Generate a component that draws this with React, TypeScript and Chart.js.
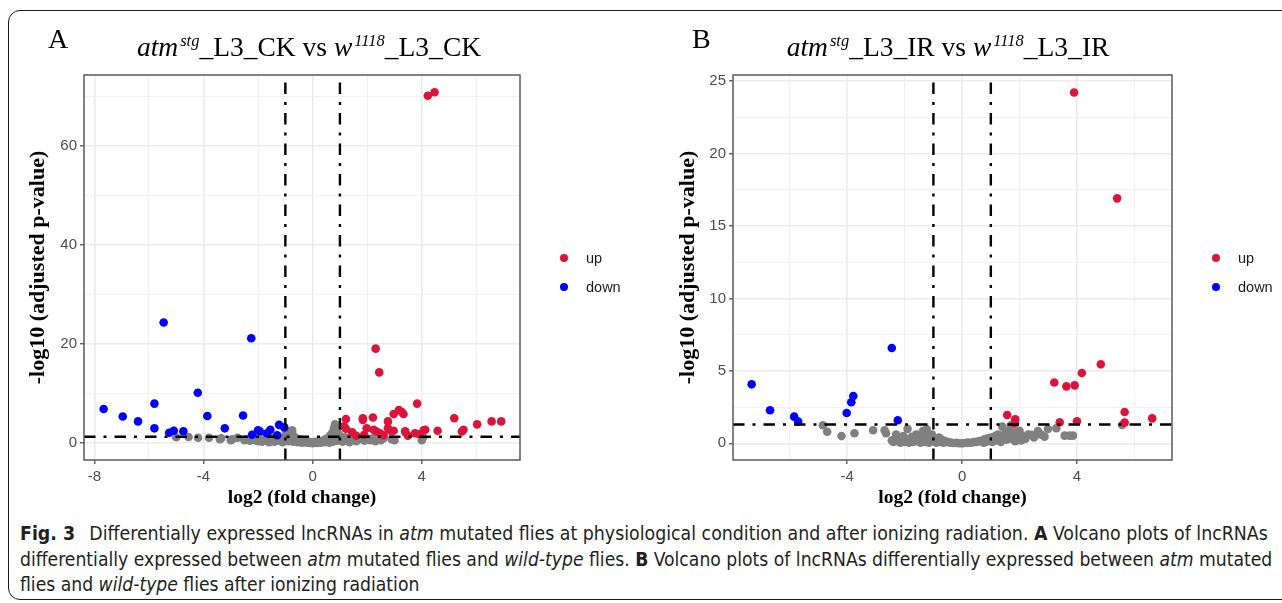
import React, { useEffect, useLayoutEffect, useRef } from 'react';
import { Chart, registerables } from 'chart.js';

Chart.register(...registerables);

// ---------- DATA ----------
// Panel A: atm^stg_L3_CK vs w^1118_L3_CK  (x = log2 fold change, y = -log10 adjusted p)
const upA: number[][] = [
  [4.22, 70.2], [4.47, 70.9], [2.31, 19.1], [2.44, 14.3], [3.83, 8.0], [3.16, 6.7], [2.97, 5.9],
  [3.33, 5.9], [1.22, 4.9], [1.84, 5.05], [1.84, 4.7], [2.21, 5.2], [2.76, 4.4], [5.19, 5.05],
  [6.03, 3.8], [6.56, 4.4], [6.91, 4.4], [1.15, 3.4], [1.22, 2.9], [1.45, 2.2], [1.98, 3.0],
  [2.23, 2.7], [2.33, 2.4], [2.47, 2.0], [2.76, 3.0], [2.85, 2.5], [2.97, 2.5], [3.39, 2.4],
  [3.49, 1.5], [3.75, 2.0], [3.91, 1.8], [4.07, 2.6], [4.13, 2.7], [4.58, 2.5], [5.47, 2.35],
  [5.53, 2.7], [1.89, 1.7], [3.27, 6.3], [3.40, 2.2], [2.6, 1.6], [1.6, 1.5],
];
const downA: number[][] = [
  [-5.46, 24.4], [-2.25, 21.2], [-4.21, 10.2], [-5.80, 8.0], [-7.66, 6.9], [-6.96, 5.4],
  [-6.40, 4.4], [-3.86, 5.5], [-2.55, 5.6], [-5.80, 3.0], [-5.26, 2.1], [-5.09, 2.5],
  [-4.74, 2.4], [-3.22, 3.0], [-2.00, 2.6], [-1.94, 2.4], [-1.55, 2.7], [-1.23, 3.7],
  [-1.04, 3.2], [-2.22, 1.7], [-1.67, 2.0], [-1.3, 1.6],
];
const nsA: number[][] = [
  [-5.0, 1.2], [-4.55, 1.25], [-4.2, 1.1], [-3.8, 1.1], [-3.4, 0.8], [-3.35, 1.0], [-3.0, 0.6],
  [-2.95, 0.8], [-2.75, 1.1], [-2.5, 0.6], [-2.45, 0.8], [-2.3, 0.5], [-2.2, 0.9], [-2.1, 0.6],
  [-2.0, 0.4], [-1.95, 1.1], [-1.9, 0.7], [-1.85, 0.3], [-1.8, 1.2], [-1.7, 0.5], [-1.65, 0.9],
  [-1.6, 0.2], [-1.55, 1.2], [-1.5, 0.6], [-1.45, 1.0], [-1.4, 0.3], [-1.35, 0.8], [-1.3, 1.2],
  [-1.25, 0.5], [-1.2, 1.1], [-0.98, 1.8], [-1.1, 0.2], [-1.05, 0.7], [-1.0, 1.3], [-0.95, 2.3],
  [-0.9, 0.4], [-0.85, 1.7], [-0.8, 1.0], [-0.75, 2.6], [-0.72, 0.3], [-0.7, 1.5], [-0.65, 0.6],
  [-0.6, 1.0], [-0.55, 0.2], [-0.5, 0.5], [-0.45, 0.8], [-0.4, 0.1], [-0.35, 0.4], [-0.3, 0.2],
  [-0.25, 0.6], [-0.2, 0.1], [-0.15, 0.3], [-0.1, 0.05], [-0.05, 0.2], [0, 0], [0.05, 0.1],
  [0.1, 0.3], [0.15, 0.05], [0.2, 0.2], [0.25, 0.5], [0.3, 0.1], [0.35, 0.3], [0.4, 0.6],
  [0.45, 0.2], [0.5, 0.9], [0.55, 0.4], [0.6, 1.2], [0.62, 0.1], [0.65, 1.6], [0.7, 0.7],
  [0.72, 2.1], [0.75, 0.3], [0.78, 3.0], [0.8, 1.0], [0.82, 3.8], [0.85, 2.5], [0.88, 1.4],
  [0.9, 0.5], [0.92, 3.2], [0.95, 1.9], [1.0, 0.9], [1.05, 1.25], [1.1, 0.3], [1.15, 0.8],
  [1.2, 1.2], [1.25, 0.5], [1.3, 1.0], [1.35, 0.2], [1.45, 0.7], [1.5, 1.1], [1.6, 0.4],
  [1.7, 0.8], [1.8, 1.2], [1.9, 0.5], [2.0, 0.9], [2.1, 0.6], [2.2, 1.0], [2.3, 0.4],
  [2.4, 0.8], [2.5, 0.6], [2.6, 1.0], [2.9, 0.8], [3.0, 0.6], [4.0, 0.6], [4.05, 1.2],
];

// Panel B: atm^stg_L3_IR vs w^1118_L3_IR
const upB: number[][] = [
  [3.90, 24.2], [5.40, 16.9], [4.83, 5.45], [4.17, 4.85], [3.21, 4.2], [3.63, 3.93], [3.92, 4.0],
  [1.57, 1.95], [1.85, 1.65], [1.84, 1.38], [3.40, 1.45], [4.00, 1.52], [5.66, 2.16],
  [5.66, 1.43], [6.62, 1.72],
];
const downB: number[][] = [
  [-7.33, 4.07], [-6.69, 2.28], [-5.85, 1.84], [-5.71, 1.5], [-4.02, 2.09], [-3.86, 2.83],
  [-3.79, 3.27], [-2.45, 6.58], [-2.24, 1.59],
];
const nsB: number[][] = [
  [-4.85, 1.25], [-4.7, 0.8], [-4.2, 0.5], [-3.75, 0.7], [-3.1, 0.9], [-2.7, 0.9], [-2.65, 0.7],
  [-2.45, 0.2], [-2.4, 0.1], [-2.35, 0.3], [-2.3, 0.6], [-2.25, 0.15], [-2.2, 0.4], [-2.15, 0.05],
  [-2.1, 0.25], [-2.05, 0.5], [-2.0, 0.1], [-1.95, 0.3], [-1.9, 1.0], [-1.85, 0.05], [-1.8, 0.2],
  [-1.75, 0.45], [-1.7, 0.1], [-1.65, 0.3], [-1.6, 0.6], [-1.55, 0.15], [-1.5, 0.35],
  [-1.45, 0.05], [-1.4, 0.25], [-1.37, 0.85], [-1.3, 0.1], [-1.25, 0.45], [-1.23, 0.97],
  [-1.2, 0.2], [-1.15, 0.05], [-1.1, 0.3], [-1.05, 0.6], [-1.0, 0.15], [-0.95, 0.35],
  [-0.9, 0.05], [-0.85, 0.2], [-0.8, 0.4], [-0.75, 0.1], [-0.7, 0.25], [-0.65, 0.05],
  [-0.6, 0.15], [-0.5, 0.08], [-0.4, 0.05], [-0.3, 0.02], [-0.2, 0.03], [-0.1, 0.01], [0, 0],
  [0.1, 0.02], [0.2, 0.05], [0.3, 0.04], [0.4, 0.08], [0.5, 0.1], [0.6, 0.15], [0.7, 0.2],
  [0.75, 0.05], [0.8, 0.3], [0.85, 0.12], [0.9, 0.35], [0.95, 0.2], [1.0, 0.4], [1.05, 0.1],
  [1.1, 0.3], [1.15, 0.5], [1.2, 0.2], [1.25, 0.6], [1.3, 0.35], [1.35, 0.1], [1.4, 1.15],
  [1.42, 0.45], [1.5, 0.7], [1.55, 0.25], [1.6, 0.5], [1.65, 0.9], [1.7, 1.25], [1.75, 0.3],
  [1.8, 0.6], [1.85, 0.15], [1.9, 0.8], [1.95, 0.4], [2.0, 0.87], [2.05, 0.2], [2.1, 0.5],
  [2.2, 0.3], [2.3, 0.6], [2.41, 0.58], [2.5, 0.4], [2.64, 0.85], [2.75, 0.6], [2.87, 0.46],
  [2.99, 0.99], [3.28, 1.04], [3.57, 0.53], [3.74, 0.53], [3.86, 0.53], [5.57, 1.27],
];

// Axis ticks (all = grid lines incl. minor, labelled = major)
const xTicksA = [-8, -6, -4, -2, 0, 2, 4, 6];
const xLabelsA = [-8, -4, 0, 4];
const yTicksA = [0, 10, 20, 30, 40, 50, 60, 70];
const yLabelsA = [0, 20, 40, 60];
const xTicksB = [-6, -4, -2, 0, 2, 4, 6];
const xLabelsB = [-4, 0, 4];
const yTicksB = [0, 2.5, 5, 7.5, 10, 12.5, 15, 17.5, 20, 22.5, 25];
const yLabelsB = [0, 5, 10, 15, 20, 25];

// Thresholds
const fcCutoff = 1;
const padjLine = 1.301;

const legendItems = ['up', 'down'];

// ---------- STYLE ----------
const RED = '#DC143C';
const BLUE = '#0000FF';
const GREY = '#808080';
const DASH = [11.5, 8, 3, 8];
const SERIF = '"Liberation Serif", "Times New Roman", serif';
const SANS = '"Liberation Sans", Arial, Helvetica, sans-serif';

const borderPlugin = {
  id: 'panelBorder',
  afterDraw(chart: any) {
    const { ctx, chartArea: a } = chart;
    ctx.save();
    ctx.strokeStyle = '#5a5a5a';
    ctx.lineWidth = 1.5;
    ctx.strokeRect(a.left, a.top, a.right - a.left, a.bottom - a.top);
    ctx.restore();
  },
};

type PanelCfg = {
  up: number[][]; down: number[][]; ns: number[][];
  xMin: number; xMax: number; yMin: number; yMax: number;
  xTicks: number[]; xLabels: number[]; yTicks: number[]; yLabels: number[];
  yAxisWidth: number; padRight: number; yTitlePad: number;
};

function toPts(a: number[][]) {
  return a.map(([x, y]) => ({ x, y }));
}

function makeConfig(p: PanelCfg): any {
  const lineDs = (data: any[]) => ({
    data, showLine: true, borderColor: '#000', borderWidth: 2.4, borderDash: DASH,
    pointRadius: 0, fill: false, order: 0, clip: 0,
  });
  const ptDs = (data: number[][], color: string, order: number) => ({
    data: toPts(data), backgroundColor: color, borderWidth: 0, pointRadius: 4.3,
    pointHoverRadius: 4.3, order, clip: 0,
  });
  const isMaj = (arr: number[]) => (c: any) => arr.includes(c.tick?.value);
  const gridOpts = (labels: number[]) => ({
    color: (c: any) => (isMaj(labels)(c) ? '#ebebeb' : '#f1f1f1'),
    lineWidth: (c: any) => (isMaj(labels)(c) ? 1.6 : 1),
    tickColor: (c: any) => (isMaj(labels)(c) ? '#333333' : 'rgba(0,0,0,0)'),
    tickLength: 4, tickWidth: 1.1, drawTicks: true,
  });
  const tickFont = { family: SANS, size: 15 };
  return {
    type: 'scatter',
    data: {
      datasets: [
        lineDs([{ x: -fcCutoff, y: p.yMin }, { x: -fcCutoff, y: p.yMax }]),
        lineDs([{ x: fcCutoff, y: p.yMin }, { x: fcCutoff, y: p.yMax }]),
        lineDs([{ x: p.xMin, y: padjLine }, { x: p.xMax, y: padjLine }]),
        ptDs(p.up, RED, 1),
        ptDs(p.down, BLUE, 1),
        ptDs(p.ns, GREY, 2),
      ],
    },
    options: {
      responsive: false, animation: false, devicePixelRatio: 1, events: [],
      layout: { padding: { top: 75, right: p.padRight, bottom: 0, left: 0 } },
      plugins: { legend: { display: false }, tooltip: { enabled: false }, title: { display: false } },
      scales: {
        x: {
          type: 'linear', position: 'bottom', min: p.xMin, max: p.xMax,
          afterBuildTicks: (s: any) => { s.ticks = p.xTicks.map((v) => ({ value: v })); },
          afterFit: (s: any) => { s.height = 60; },
          ticks: {
            autoSkip: false, maxRotation: 0, padding: 4, color: '#4d4d4d', font: tickFont,
            callback: (v: any) => (p.xLabels.includes(v) ? String(v) : ''),
          },
          grid: gridOpts(p.xLabels),
          border: { display: false },
          title: {
            display: true, text: 'log2 (fold change)', color: '#000',
            font: { family: SERIF, size: 19.5, weight: 'bold' },
            padding: { top: 0, bottom: 10 },
          },
        },
        y: {
          type: 'linear', position: 'left', min: p.yMin, max: p.yMax,
          afterBuildTicks: (s: any) => { s.ticks = p.yTicks.map((v) => ({ value: v })); },
          afterFit: (s: any) => { s.width = p.yAxisWidth; },
          ticks: {
            autoSkip: false, padding: 3, color: '#4d4d4d', font: tickFont,
            callback: (v: any) => (p.yLabels.includes(v) ? String(v) : ''),
          },
          grid: gridOpts(p.yLabels),
          border: { display: false },
          title: {
            display: true, text: '-log10 (adjusted p-value)', color: '#000',
            font: { family: SERIF, size: 22, weight: 'bold' },
            padding: { top: p.yTitlePad, bottom: 0 },
          },
        },
      },
    },
    plugins: [borderPlugin],
  };
}

const panelA: PanelCfg = {
  up: upA, down: downA, ns: nsA, xMin: -8.38, xMax: 7.6, yMin: -3.4, yMax: 74.4,
  xTicks: xTicksA, xLabels: xLabelsA, yTicks: yTicksA, yLabels: yLabelsA,
  yAxisWidth: 84, padRight: 120, yTitlePad: 25,
};
const panelB: PanelCfg = {
  up: upB, down: downB, ns: nsB, xMin: -7.98, xMax: 7.31, yMin: -1.15, yMax: 25.41,
  xTicks: xTicksB, xLabels: xLabelsB, yTicks: yTicksB, yLabels: yLabelsB,
  yAxisWidth: 93, padRight: 110, yTitlePad: 35,
};

function Volcano({ cfg, left, width }: { cfg: PanelCfg; left: number; width: number }) {
  const ref = useRef<HTMLCanvasElement>(null);
  useEffect(() => {
    if (!ref.current) return;
    const chart = new Chart(ref.current, makeConfig(cfg));
    return () => chart.destroy();
  }, [cfg]);
  return (
    <canvas
      ref={ref}
      width={width}
      height={520}
      style={{ position: 'absolute', left, top: 0, width, height: 520 }}
    />
  );
}

function Title({ center, cond }: { center: number; cond: string }) {
  const sup: React.CSSProperties = { fontSize: '0.6em', position: 'relative', top: '-0.62em', marginLeft: 2 };
  return (
    <div
      style={{
        position: 'absolute', left: center - 300, width: 600, top: 32, textAlign: 'center',
        fontFamily: SERIF, fontSize: 27.5, lineHeight: '30px', color: '#000', whiteSpace: 'nowrap',
      }}
    >
      <i>atm</i><i style={sup}>stg</i>_L3_{cond} vs <i>w</i><i style={sup}>1118</i>_L3_{cond}
    </div>
  );
}

function Legend({ left }: { left: number }) {
  const colors = [RED, BLUE];
  return (
    <>
      {legendItems.map((t, i) => (
        <React.Fragment key={t}>
          <div
            style={{
              position: 'absolute', left: left - 4.3, top: 258 + i * 29 - 4.3, width: 8.6, height: 8.6,
              borderRadius: '50%', background: colors[i],
            }}
          />
          <div
            style={{
              position: 'absolute', left: left + 22, top: 258 + i * 29 - 10, height: 20, lineHeight: '20px',
              fontFamily: SANS, fontSize: 14.5, color: '#1a1a1a',
            }}
          >
            {t}
          </div>
        </React.Fragment>
      ))}
    </>
  );
}

export default function App() {
  const l1 = useRef<HTMLDivElement>(null);
  const l2 = useRef<HTMLDivElement>(null);
  const l3 = useRef<HTMLDivElement>(null);

  useLayoutEffect(() => {
    document.body.style.margin = '0';
    const targets = [1248, 1252, 0];
    let last = 1;
    [l1, l2, l3].forEach((r, i) => {
      const el = r.current;
      if (!el) return;
      el.style.transform = 'none';
      const w = el.scrollWidth;
      const s = targets[i] ? targets[i] / w : last;
      el.style.transform = `scaleX(${s})`;
      last = s;
    });
  }, []);

  const capLine: React.CSSProperties = {
    position: 'absolute', left: 20, whiteSpace: 'nowrap', display: 'inline-block',
    transformOrigin: 'left center', fontFamily: '"Liberation Sans Narrow", "DejaVu Sans Condensed", "Liberation Sans", sans-serif',
    fontSize: 19.5, lineHeight: '24px', height: 24, color: '#231f20',
  };

  return (
    <div style={{ position: 'fixed', left: 0, top: 0, width: 1282, height: 603, background: '#fff', overflow: 'hidden' }}>
      <div
        style={{
          position: 'absolute', left: 8, top: 10, width: 1320, height: 590, boxSizing: 'border-box',
          border: '1.4px solid #1a1a1a', borderRadius: 12,
        }}
      />
      <Volcano cfg={panelA} left={0} width={640} />
      <Volcano cfg={panelB} left={640} width={642} />
      <div style={{ position: 'absolute', left: 48, top: 22, fontFamily: SERIF, fontSize: 28, lineHeight: '34px' }}>A</div>
      <div style={{ position: 'absolute', left: 692, top: 22, fontFamily: SERIF, fontSize: 28, lineHeight: '34px' }}>B</div>
      <Title center={309} cond="CK" />
      <Title center={948} cond="IR" />
      <Legend left={564} />
      <Legend left={1216} />
      <div ref={l1} style={{ ...capLine, top: 522 }}>
        <b>Fig. 3</b>{'\u2002 '}Differentially expressed lncRNAs in <i>atm</i> mutated flies at physiological condition and after ionizing radiation. <b>A</b> Volcano plots of lncRNAs
      </div>
      <div ref={l2} style={{ ...capLine, top: 548 }}>
        differentially expressed between <i>atm</i> mutated flies and <i>wild-type</i> flies. <b>B</b> Volcano plots of lncRNAs differentially expressed between <i>atm</i> mutated
      </div>
      <div ref={l3} style={{ ...capLine, top: 573 }}>
        flies and <i>wild-type</i> flies after ionizing radiation
      </div>
    </div>
  );
}
